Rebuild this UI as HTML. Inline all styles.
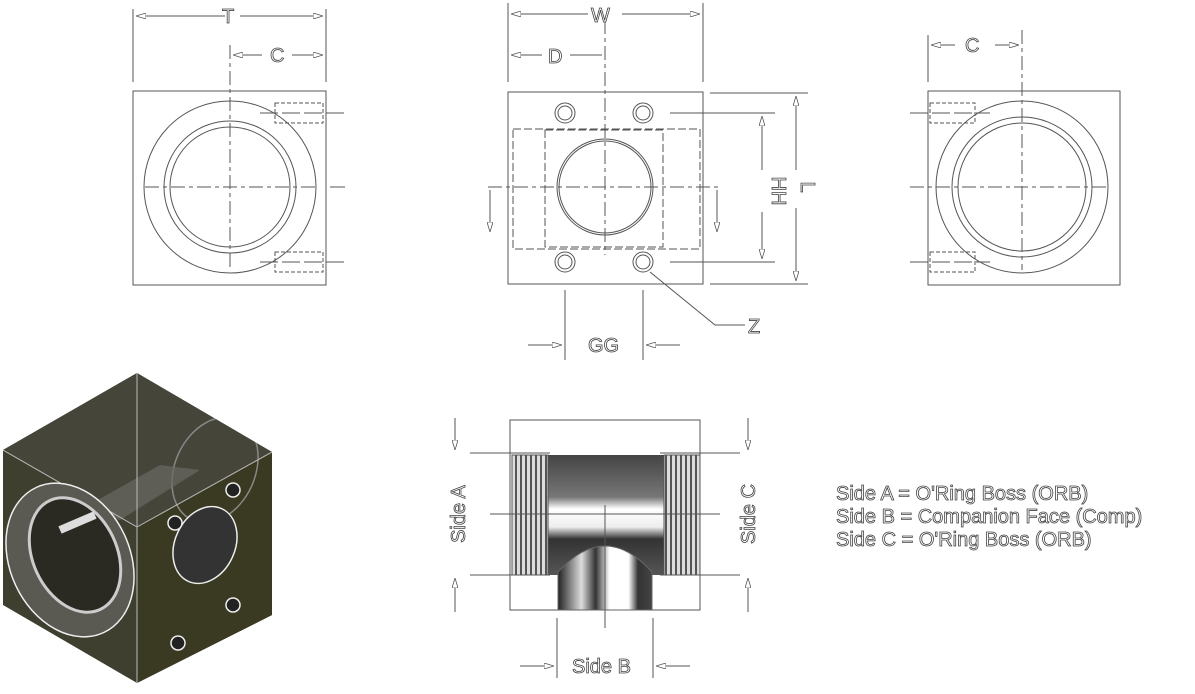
<!DOCTYPE html>
<html><head><style>
html,body{margin:0;padding:0;background:#fff;width:1195px;height:694px;overflow:hidden}
svg{display:block}
text{font-family:"Liberation Sans",sans-serif;fill:#fff;stroke:#444;stroke-width:0.8px}
</style></head><body>
<svg width="1195" height="694" viewBox="0 0 1195 694" xmlns="http://www.w3.org/2000/svg">
<defs>
<linearGradient id="bore" x1="0" y1="0" x2="0" y2="1">
<stop offset="0" stop-color="#444"/><stop offset="0.35" stop-color="#777"/><stop offset="0.45" stop-color="#fff"/><stop offset="0.6" stop-color="#eee"/><stop offset="0.7" stop-color="#333"/><stop offset="1" stop-color="#555"/></linearGradient>
<linearGradient id="vb" x1="0" y1="0" x2="1" y2="0">
<stop offset="0" stop-color="#222"/><stop offset="0.25" stop-color="#ddd"/><stop offset="0.4" stop-color="#333"/><stop offset="0.55" stop-color="#fff"/><stop offset="0.75" stop-color="#fff"/><stop offset="0.85" stop-color="#333"/><stop offset="1" stop-color="#444"/></linearGradient>
<pattern id="thr" width="5" height="10" patternUnits="userSpaceOnUse"><rect width="5" height="10" fill="#ddd"/><rect width="2" height="10" fill="#555"/></pattern>
<clipPath id="hex"><polygon points="137,373 3,450 3,605 137,683 272,615 272,452"/></clipPath>
<marker id="ar" viewBox="0 0 10 6" refX="10" refY="3" markerWidth="10" markerHeight="6" orient="auto" markerUnits="userSpaceOnUse"><path d="M0,0 L10,3 L0,6 Z" fill="#fff" stroke="#555" stroke-width="0.8"/></marker>
</defs>
<g fill="none" stroke="#555" stroke-width="1">
<!-- left view -->
<rect x="133" y="91" width="193" height="194"/>
<circle cx="230" cy="187" r="86"/>
<circle cx="230" cy="187" r="66"/>
<circle cx="230" cy="187" r="60"/>
<line x1="133" y1="9" x2="133" y2="82"/><line x1="326" y1="9" x2="326" y2="82"/>
<line x1="225" y1="16" x2="136" y2="16" marker-end="url(#ar)"/><line x1="240" y1="16" x2="323" y2="16" marker-end="url(#ar)"/>
<line x1="262" y1="55" x2="233" y2="55" marker-end="url(#ar)"/><line x1="292" y1="55" x2="323" y2="55" marker-end="url(#ar)"/>
<line x1="230" y1="45" x2="230" y2="270" stroke-dasharray="14,4,4,4"/>
<line x1="145" y1="187" x2="315" y2="187" stroke-dasharray="14,4,4,4"/>
<rect x="275" y="103" width="48" height="20" stroke-dasharray="4,2"/>
<rect x="275" y="252" width="48" height="20" stroke-dasharray="4,2"/>
<line x1="260" y1="113" x2="345" y2="113" stroke-dasharray="18,4"/>
<line x1="260" y1="262" x2="345" y2="262" stroke-dasharray="18,4"/>
<line x1="330" y1="187" x2="345" y2="187"/>
<!-- middle view -->
<rect x="508" y="92" width="195" height="192"/>
<rect x="513" y="129" width="187" height="120" stroke-dasharray="8,3"/>
<rect x="545" y="130" width="118" height="117" stroke-dasharray="8,3"/>
<circle cx="605" cy="187" r="48"/><circle cx="605" cy="187" r="46"/>
<g>
<circle cx="565" cy="113" r="10"/><circle cx="565" cy="113" r="7"/>
<circle cx="643" cy="113" r="10"/><circle cx="643" cy="113" r="7"/>
<circle cx="565" cy="262" r="10"/><circle cx="565" cy="262" r="7"/>
<circle cx="643" cy="262" r="10"/><circle cx="643" cy="262" r="7"/>
</g>
<line x1="605" y1="20" x2="605" y2="255" stroke-dasharray="14,4,4,4"/>
<line x1="488" y1="187" x2="718" y2="187" stroke-dasharray="14,4,4,4"/>
<line x1="508" y1="3" x2="508" y2="82"/><line x1="703" y1="3" x2="703" y2="82"/>
<line x1="588" y1="14" x2="511" y2="14" marker-end="url(#ar)"/><line x1="622" y1="14" x2="700" y2="14" marker-end="url(#ar)"/>
<line x1="542" y1="55" x2="511" y2="55" marker-end="url(#ar)"/><line x1="570" y1="55" x2="602" y2="55"/>
<line x1="710" y1="93" x2="808" y2="93"/><line x1="710" y1="284" x2="808" y2="284"/>
<line x1="670" y1="113" x2="775" y2="113"/><line x1="670" y1="262" x2="775" y2="262"/>
<line x1="762" y1="170" x2="762" y2="116" marker-end="url(#ar)"/><line x1="762" y1="212" x2="762" y2="259" marker-end="url(#ar)"/>
<line x1="796" y1="170" x2="796" y2="96" marker-end="url(#ar)"/><line x1="796" y1="208" x2="796" y2="281" marker-end="url(#ar)"/>
<line x1="490" y1="190" x2="490" y2="232" marker-end="url(#ar)"/><line x1="717" y1="190" x2="717" y2="232" marker-end="url(#ar)"/>
<line x1="565" y1="290" x2="565" y2="360"/><line x1="643" y1="290" x2="643" y2="360"/>
<line x1="528" y1="345" x2="562" y2="345" marker-end="url(#ar)"/><line x1="680" y1="345" x2="646" y2="345" marker-end="url(#ar)"/>
<polyline points="650,272 715,325 745,325"/>
<!-- right view -->
<rect x="928" y="91" width="192" height="194"/>
<circle cx="1022" cy="187" r="86"/>
<circle cx="1022" cy="187" r="70"/>
<circle cx="1022" cy="187" r="64"/>
<line x1="1022" y1="30" x2="1022" y2="270" stroke-dasharray="14,4,4,4"/>
<line x1="910" y1="187" x2="1110" y2="187" stroke-dasharray="14,4,4,4"/>
<line x1="928" y1="35" x2="928" y2="82"/>
<line x1="955" y1="45" x2="931" y2="45" marker-end="url(#ar)"/><line x1="995" y1="45" x2="1019" y2="45" marker-end="url(#ar)"/>
<rect x="930" y="103" width="45" height="20" stroke-dasharray="4,2"/>
<rect x="930" y="252" width="45" height="20" stroke-dasharray="4,2"/>
<line x1="910" y1="113" x2="990" y2="113" stroke-dasharray="18,4"/>
<line x1="910" y1="262" x2="990" y2="262" stroke-dasharray="18,4"/>
</g>
<!-- isometric -->
<g>
<polygon points="137,373 3,450 3,605 137,683 272,615 272,452" fill="#3f3f2f"/>
<polygon points="137,527 272,452 272,615 137,683" fill="#3a3a22"/>
<polygon points="137,373 3,450 137,527 272,452" fill="#45453a"/>
<g clip-path="url(#hex)">
<ellipse cx="215" cy="470" rx="40" ry="55" transform="rotate(25 215 470)" fill="none" stroke="#888" stroke-width="1.5"/>
<path d="M80,510 L160,465 L200,470 L120,520 Z" fill="#6a6a62" opacity="0.7"/>
<g fill="none" stroke="#bbb" stroke-width="1">
<line x1="137" y1="373" x2="137" y2="527"/><line x1="3" y1="450" x2="137" y2="527"/><line x1="137" y1="527" x2="272" y2="452"/><line x1="137" y1="527" x2="137" y2="683"/>
</g>
<ellipse cx="70" cy="560" rx="60" ry="80" transform="rotate(-25 70 560)" fill="#5a5a52" stroke="#eee" stroke-width="1.5"/>
<ellipse cx="75" cy="555" rx="42" ry="60" transform="rotate(-25 75 555)" fill="#2a2a22" stroke="#ccc" stroke-width="3"/>
<path d="M60,530 L95,515" stroke="#ddd" stroke-width="8"/>
<ellipse cx="205" cy="545" rx="30" ry="40" transform="rotate(25 205 545)" fill="#333" stroke="#eee" stroke-width="1.5"/>
<g fill="#222" stroke="#eee" stroke-width="1.5">
<circle cx="175" cy="523" r="7"/><circle cx="233" cy="490" r="7"/><circle cx="233" cy="605" r="7"/><circle cx="178" cy="643" r="7"/>
</g>
</g>
</g>
<!-- tee section -->
<g>
<rect x="510" y="420" width="190" height="190" fill="#fff" stroke="#555"/>
<rect x="548" y="455" width="116" height="120" fill="url(#bore)"/>
<rect x="512" y="455" width="36" height="120" fill="url(#thr)" stroke="#555"/>
<rect x="664" y="455" width="36" height="120" fill="url(#thr)" stroke="#555"/>
<path d="M558,610 L558,572 Q605,520 652,572 L652,610 Z" fill="url(#vb)" stroke="#666"/>
<g fill="none" stroke="#555">
<line x1="470" y1="453" x2="550" y2="453"/><line x1="660" y1="453" x2="740" y2="453"/>
<line x1="470" y1="575" x2="550" y2="575"/><line x1="660" y1="575" x2="740" y2="575"/>
<line x1="490" y1="514" x2="720" y2="514"/>
<line x1="605" y1="505" x2="605" y2="628"/>
<line x1="455" y1="418" x2="455" y2="450" marker-end="url(#ar)"/><line x1="455" y1="612" x2="455" y2="578" marker-end="url(#ar)"/>
<line x1="748" y1="418" x2="748" y2="450" marker-end="url(#ar)"/><line x1="748" y1="612" x2="748" y2="578" marker-end="url(#ar)"/>
<line x1="557" y1="618" x2="557" y2="678"/><line x1="653" y1="618" x2="653" y2="678"/>
<line x1="520" y1="666" x2="554" y2="666" marker-end="url(#ar)"/><line x1="690" y1="666" x2="656" y2="666" marker-end="url(#ar)"/>
</g>
</g>
<!-- labels -->
<g font-size="20">
<text x="222" y="23">T</text>
<text x="270" y="62">C</text>
<text x="591" y="22">W</text>
<text x="548" y="63">D</text>
<text x="965" y="52">C</text>
<text x="588" y="352">GG</text>
<text x="748" y="333">Z</text>
<text x="772" y="191" transform="rotate(90 772 191)" text-anchor="middle">HH</text>
<text x="801" y="187" transform="rotate(90 801 187)" text-anchor="middle">L</text>
<text x="465" y="514" transform="rotate(-90 465 514)" text-anchor="middle">Side A</text>
<text x="755" y="514" transform="rotate(-90 755 514)" text-anchor="middle">Side C</text>
<text x="572" y="673">Side B</text>
<text x="836" y="500">Side A = O'Ring Boss (ORB)</text>
<text x="836" y="523">Side B = Companion Face (Comp)</text>
<text x="836" y="546">Side C = O'Ring Boss (ORB)</text>
</g>
</svg>
</body></html>
